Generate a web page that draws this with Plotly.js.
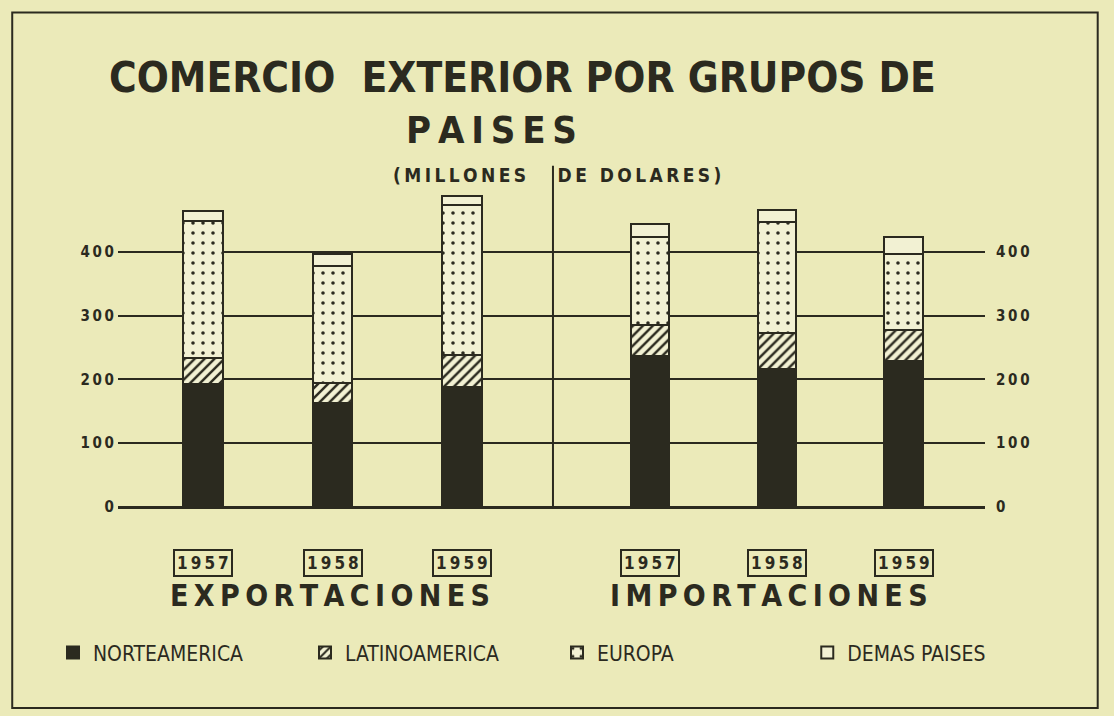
<!DOCTYPE html>
<html>
<head>
<meta charset="utf-8">
<script src="https://cdn.plot.ly/plotly-3.0.1.min.js"></script>
<style>
html,body{margin:0;padding:0;background:#ebeab9;}
#chart{width:1114px;height:716px;}
</style>
</head>
<body>
<div id="chart"></div>
<script>
// ---- data (millones de dólares) ----
const years = ["1957", "1958", "1959"];
const norteExp = [193, 163, 188];
const latinExp = [40, 31, 50];
const europaExp = [216, 183, 235];
const demasExp = [15, 20, 14];
const norteImp = [237, 217, 229];
const latinImp = [48, 55, 48];
const europaImp = [138, 175, 120];
const demasImp = [21, 19, 26];
const seriesNames = ["NORTEAMERICA", "LATINOAMERICA", "EUROPA", "DEMAS PAISES"];
const yTicks = [0, 100, 200, 300, 400];
const groupLabels = ["EXPORTACIONES", "IMPORTACIONES"];
const titleLine1 = "COMERCIO  EXTERIOR POR GRUPOS DE";
const titleLine2 = "PAISES";
const subtitle = "(MILLONES   DE DOLARES)";

// ---- styling ----
const INK = "#2b2a1f";
const PAPER = "#ebeab9";
const LIGHT = "#f2f1d3";
const FONT = "DejaVu Sans Condensed, Liberation Sans Narrow, DejaVu Sans, sans-serif";
const split = 0.5017;
const spaced = s => s.split("").join("\u2009").replace(/ /g, "&nbsp;");

const styles = [
  {color: INK, pattern: {shape: ""}},
  {color: LIGHT, pattern: {shape: "/", fgcolor: INK, bgcolor: LIGHT, size: 7, solidity: 0.35, fillmode: "replace"}},
  {color: LIGHT, pattern: {shape: ".", fgcolor: INK, bgcolor: LIGHT, size: 10, solidity: 0.1, fillmode: "replace"}},
  {color: LIGHT, pattern: {shape: ""}}
];
const expData = [norteExp, latinExp, europaExp, demasExp];
const impData = [norteImp, latinImp, europaImp, demasImp];

const traces = [];
seriesNames.forEach((name, i) => {
  const marker = {color: styles[i].color, pattern: styles[i].pattern, line: {color: INK, width: 2}};
  traces.push({type: "bar", name: name, x: years, y: expData[i], xaxis: "x", yaxis: "y",
    width: 0.305, marker: marker, legendgroup: name, legend: i < 3 ? "legend" : "legend2",
    showlegend: true, hoverinfo: "y+name"});
  traces.push({type: "bar", name: name, x: years, y: impData[i], xaxis: "x2", yaxis: "y2",
    width: 0.305, marker: marker, legendgroup: name, showlegend: false, hoverinfo: "y+name"});
});

const ann = (o) => Object.assign({showarrow: false, xanchor: "center", yanchor: "middle",
  xref: "paper", yref: "paper"}, o);
const annotations = [];
years.forEach((y, i) => {
  ["x", "x2"].forEach(ax => {
    annotations.push(ann({xref: ax, x: i, y: -0.174, text: "<b>" + spaced(y) + "</b>",
      font: {family: FONT, size: 17, color: INK},
      bordercolor: INK, borderwidth: 2, borderpad: 2, bgcolor: PAPER}));
  });
});
annotations.push(ann({x: split / 2 - 0.006, y: -0.277, text: "<b>" + spaced(groupLabels[0]) + "</b>",
  font: {family: FONT, size: 30, color: INK}}));
annotations.push(ann({x: (split + 1) / 2, y: -0.277, text: "<b>" + spaced(groupLabels[1]) + "</b>",
  font: {family: FONT, size: 30, color: INK}}));
annotations.push(ann({x: 0.506, y: 1.040, text: "<b>" + spaced(subtitle) + "</b>",
  font: {family: FONT, size: 19, color: INK}}));
annotations.push(ann({x: 0.431, y: 1.182, text: "<b>" + spaced(titleLine2) + "</b>",
  font: {family: FONT, size: 38, color: INK}}));
annotations.push(ann({x: 0.466, y: 1.345, text: "<b>" + titleLine1.replace(/ /g, "&nbsp;") + "</b>",
  font: {family: FONT, size: 42, color: INK}}));

const tickText = yTicks.map(v => String(v).split("").join("\u2009"));
const legendCommon = {orientation: "h", yanchor: "middle", y: -0.457,
  font: {family: FONT, size: 21, color: INK}, bgcolor: "rgba(0,0,0,0)", itemclick: false,
  itemdoubleclick: false};
const yCommon = {range: [0, 500], tickvals: yTicks, ticktext: tickText,
  showgrid: true, gridcolor: INK, gridwidth: 2, zeroline: true, zerolinecolor: INK, zerolinewidth: 3,
  tickfont: {family: FONT, size: 15, color: INK, weight: "bold"}, ticks: "", showline: false};

const layout = {
  width: 1114, height: 716,
  paper_bgcolor: PAPER, plot_bgcolor: PAPER,
  margin: {l: 118, r: 129, t: 188, b: 209},
  barmode: "stack",
  showlegend: true,
  legend: Object.assign({}, legendCommon, {x: -0.075, xanchor: "left", entrywidth: 207, entrywidthmode: "pixels"}),
  legend2: Object.assign({}, legendCommon, {x: 0.795, xanchor: "left"}),
  xaxis: {domain: [0, split], type: "category", range: [-0.656, 2.70], showticklabels: false,
    showgrid: false, zeroline: false, showline: false, ticks: ""},
  xaxis2: {domain: [split, 1], type: "category", range: [-0.764, 2.64], showticklabels: false,
    showgrid: false, zeroline: false, showline: false, ticks: "", anchor: "y2"},
  yaxis: Object.assign({}, yCommon, {ticklabelstandoff: 3}),
  yaxis2: Object.assign({}, yCommon, {side: "right", anchor: "x2", ticklabelstandoff: 10}),
  shapes: [
    {type: "line", xref: "paper", yref: "paper", x0: split, x1: split, y0: 0, y1: 1.07,
      line: {color: INK, width: 2}, layer: "above"},
    {type: "rect", xref: "paper", yref: "paper", x0: -0.122, x1: 1.13, y0: -0.63, y1: 1.55,
      line: {color: INK, width: 2}, layer: "below"}
  ],
  annotations: annotations
};

Plotly.newPlot("chart", traces, layout, {displayModeBar: false, staticPlot: true});
</script>
</body>
</html>
